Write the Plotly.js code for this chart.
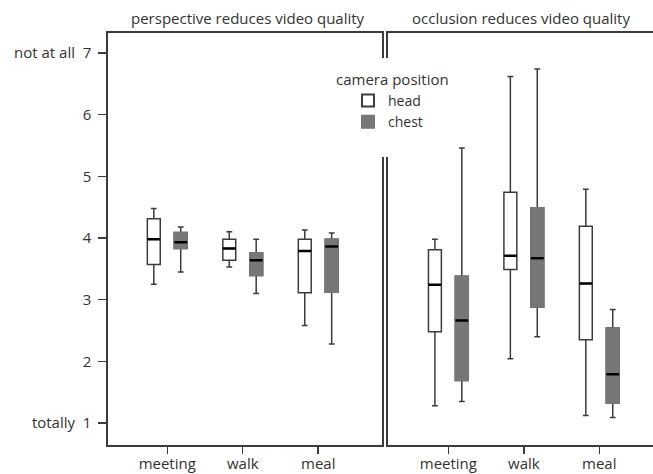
<!DOCTYPE html>
<html>
<head>
<meta charset="utf-8">
<script src="https://cdn.plot.ly/plotly-3.0.1.min.js"></script>
<style>html,body{margin:0;padding:0;background:#fff;}#chart{width:653px;height:474px;}</style>
</head>
<body>
<div id="chart"></div>
<script>
// categories and panel titles
const categories = ['meeting', 'walk', 'meal'];
const panelTitles = ['perspective reduces video quality', 'occlusion reduces video quality'];
const seriesNames = ['head', 'chest'];
const yTickVals = [1, 2, 3, 4, 5, 6, 7];
const yTickText = ['totally\u00a0\u00a01', '2', '3', '4', '5', '6', 'not at all\u00a0\u00a07'];
const legendTitle = 'camera position';

// perspective panel
const perspHeadLower  = [3.25, 3.53, 2.58];
const perspHeadQ1     = [3.57, 3.64, 3.11];
const perspHeadMedian = [3.98, 3.83, 3.79];
const perspHeadQ3     = [4.31, 3.98, 3.98];
const perspHeadUpper  = [4.48, 4.10, 4.13];

const perspChestLower  = [3.45, 3.10, 2.28];
const perspChestQ1     = [3.83, 3.39, 3.12];
const perspChestMedian = [3.93, 3.64, 3.86];
const perspChestQ3     = [4.09, 3.76, 3.98];
const perspChestUpper  = [4.18, 3.98, 4.08];

// occlusion panel
const occlHeadLower  = [1.28, 2.04, 1.12];
const occlHeadQ1     = [2.48, 3.49, 2.35];
const occlHeadMedian = [3.24, 3.71, 3.26];
const occlHeadQ3     = [3.81, 4.74, 4.19];
const occlHeadUpper  = [3.98, 6.62, 4.79];

const occlChestLower  = [1.35, 2.40, 1.09];
const occlChestQ1     = [1.69, 2.88, 1.32];
const occlChestMedian = [2.66, 3.67, 1.79];
const occlChestQ3     = [3.38, 4.49, 2.54];
const occlChestUpper  = [5.46, 6.74, 2.84];

const FONT = 'Open Sans, sans-serif';
const FS = 15;
const TXT = '#333333';
const LINE = '#3c3c3c';
const CHEST = '#777777';

const panels = [
  {xa: 'x', ya: 'y', head: [perspHeadLower, perspHeadQ1, perspHeadMedian, perspHeadQ3, perspHeadUpper],
   chest: [perspChestLower, perspChestQ1, perspChestMedian, perspChestQ3, perspChestUpper], legend: true},
  {xa: 'x2', ya: 'y2', head: [occlHeadLower, occlHeadQ1, occlHeadMedian, occlHeadQ3, occlHeadUpper],
   chest: [occlChestLower, occlChestQ1, occlChestMedian, occlChestQ3, occlChestUpper], legend: false}
];

const traces = [];
panels.forEach(p => {
  [['head', p.head, '#ffffff'], ['chest', p.chest, CHEST]].forEach(([nm, d, fill]) => {
    const [lo, q1, med, q3, hi] = d;
    traces.push({
      type: 'box', xaxis: p.xa, yaxis: p.ya, name: nm, offsetgroup: nm,
      x: categories, q1: q1, median: med, q3: q3, lowerfence: lo, upperfence: hi,
      fillcolor: fill, line: {color: LINE, width: 1.5}, whiskerwidth: 0.45,
      boxpoints: false, hoverinfo: 'skip',
      showlegend: p.legend && nm === 'head', legendgroup: nm
    });
    if (nm === 'chest') {
      traces.push({
        type: 'box', xaxis: p.xa, yaxis: p.ya, name: nm, offsetgroup: nm,
        x: categories, q1: q1, median: q1, q3: q3, lowerfence: q1, upperfence: q3,
        fillcolor: CHEST, line: {color: CHEST, width: 1.5}, whiskerwidth: 0,
        boxpoints: false, hoverinfo: 'skip',
        showlegend: p.legend, legendgroup: nm
      });
    }
    traces.push({
      type: 'box', xaxis: p.xa, yaxis: p.ya, name: nm + ' median', offsetgroup: nm,
      x: categories, q1: med, median: med, q3: med, lowerfence: med, upperfence: med,
      fillcolor: 'rgba(0,0,0,0)', line: {color: '#000000', width: 2.5}, whiskerwidth: 0,
      boxpoints: false, hoverinfo: 'skip', showlegend: false
    });
  });
});

const W = 653 - 108;
const H = 474 - 33 - 29;
const px = v => (v - 108) / W;
const py = v => (445 - v) / H;

const yRange = [0.643, 7.324];

const xCommon = {
  type: 'category', showline: true, linecolor: LINE, linewidth: 1.6, mirror: true,
  ticks: 'outside', ticklen: 7, tickcolor: LINE, tickwidth: 1.5, ticklabelstandoff: -3,
  showgrid: false, zeroline: false, fixedrange: true,
  tickfont: {family: FONT, size: FS, color: TXT}
};

const layout = {
  width: 653, height: 474,
  margin: {l: 108, r: 0, t: 33, b: 29},
  paper_bgcolor: '#ffffff', plot_bgcolor: '#ffffff',
  font: {family: FONT, size: FS, color: TXT},
  boxmode: 'group', boxgap: 0.287, boxgroupgap: 0.52,
  showlegend: true,
  legend: {
    x: px(348), y: py(85), xanchor: 'left', yanchor: 'top',
    bgcolor: 'rgba(0,0,0,0)', borderwidth: 0,
    font: {family: FONT, size: 14, color: TXT},
    tracegroupgap: 0, itemsizing: 'constant'
  },
  xaxis: Object.assign({}, xCommon, {domain: [0, px(382)], range: [-0.785, 2.845]}),
  xaxis2: Object.assign({}, xCommon, {domain: [px(388), 1], range: [-0.8, 2.712], anchor: 'y2'}),
  yaxis: {
    range: yRange, tickvals: yTickVals, ticktext: yTickText,
    showline: true, linecolor: LINE, linewidth: 1.6, mirror: true,
    ticks: 'outside', ticklen: 8, tickcolor: LINE, tickwidth: 1.5,
    ticklabelstandoff: 4,
    showgrid: false, zeroline: false, fixedrange: true,
    tickfont: {family: FONT, size: FS, color: TXT}
  },
  yaxis2: {
    range: yRange, anchor: 'x2', matches: 'y',
    showline: true, linecolor: LINE, linewidth: 1.6, mirror: false,
    showticklabels: false, ticks: '',
    showgrid: false, zeroline: false, fixedrange: true
  },
  annotations: [
    {text: panelTitles[0], xref: 'paper', yref: 'paper', x: px(248), y: py(18),
     xanchor: 'center', yanchor: 'middle', showarrow: false,
     font: {family: FONT, size: FS, color: TXT}},
    {text: panelTitles[1], xref: 'paper', yref: 'paper', x: px(521), y: py(18),
     xanchor: 'center', yanchor: 'middle', showarrow: false,
     font: {family: FONT, size: FS, color: TXT}},
    {text: legendTitle, xref: 'paper', yref: 'paper', x: px(392), y: py(79),
     xanchor: 'center', yanchor: 'middle', showarrow: false,
     font: {family: FONT, size: FS, color: TXT}}
  ],
  shapes: [
    {type: 'rect', xref: 'paper', yref: 'paper', layer: 'above',
     x0: px(330), x1: px(452), y0: py(157), y1: py(58),
     fillcolor: '#ffffff', line: {width: 0}}
  ]
};

Plotly.newPlot('chart', traces, layout, {staticPlot: true, displayModeBar: false});
</script>
</body>
</html>
